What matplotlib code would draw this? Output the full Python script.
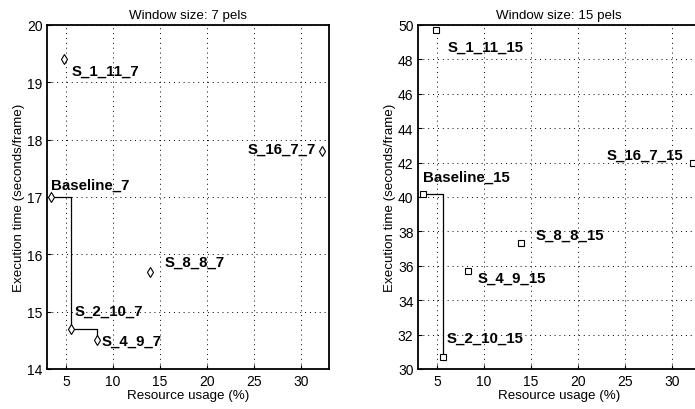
import matplotlib
matplotlib.use("Agg")
import matplotlib.pyplot as plt

plt.rcParams['font.family'] = ['Liberation Sans', 'DejaVu Sans']

# Window size 7 pels
names7 = ["Baseline_7", "S_1_11_7", "S_2_10_7", "S_4_9_7", "S_8_8_7", "S_16_7_7"]
usage7 = [3.4, 4.8, 5.5, 8.3, 13.9, 32.2]
time7 = [17.0, 19.4, 14.7, 14.5, 15.7, 17.8]
pareto7 = ["Baseline_7", "S_2_10_7", "S_4_9_7"]

# Window size 15 pels
names15 = ["Baseline_15", "S_1_11_15", "S_2_10_15", "S_4_9_15", "S_8_8_15", "S_16_7_15"]
usage15 = [3.5, 4.9, 5.6, 8.3, 13.9, 32.25]
time15 = [40.2, 49.7, 30.7, 35.7, 37.3, 41.95]
pareto15 = ["Baseline_15", "S_2_10_15"]

# label offsets in points (dx, dy) and alignment
off7 = {"Baseline_7": (0, 9, 'left'), "S_1_11_7": (5, -8, 'left'),
        "S_2_10_7": (3, 13, 'left'), "S_4_9_7": (3, 0, 'left'),
        "S_8_8_7": (11, 7, 'left'), "S_16_7_7": (-4, 2, 'right')}
off15 = {"Baseline_15": (0, 12, 'left'), "S_1_11_15": (8, -12, 'left'),
         "S_2_10_15": (3, 14, 'left'), "S_4_9_15": (7, -5, 'left'),
         "S_8_8_15": (11, 6, 'left'), "S_16_7_15": (-7, 6, 'right')}

fig = plt.figure(figsize=(6.95, 4.10), dpi=100)
ax1 = fig.add_axes([47.3/695, 40/410, 282/695, 344/410])
ax2 = fig.add_axes([418.3/695, 40/410, 282/695, 344/410])


def draw(ax, names, xs, ys, pareto, offs, marker, ms, ylim, yticks, title):
    ax.plot(xs, ys, linestyle='none', marker=marker, markersize=ms,
            markerfacecolor='white', markeredgecolor='black', markeredgewidth=0.8, zorder=3)
    px = [xs[names.index(n)] for n in pareto]
    py = [ys[names.index(n)] for n in pareto]
    ax.plot(px, py, drawstyle='steps-post', color='black', linewidth=0.9, zorder=2)
    for n, x, y in zip(names, xs, ys):
        dx, dy, ha = offs[n]
        ax.annotate(n, (x, y), xytext=(dx, dy), textcoords='offset points',
                    ha=ha, va='center', fontsize=10.8, fontweight='bold')
    ax.set_xlim(3, 33)
    ax.set_ylim(*ylim)
    ax.set_xticks([5, 10, 15, 20, 25, 30])
    ax.set_yticks(yticks)
    ax.grid(True, linestyle=(0, (1, 4)), color='black', linewidth=0.7)
    ax.tick_params(direction='in', length=3, labelsize=10, width=0.8)
    for s in ax.spines.values():
        s.set_linewidth(1.3)
    ax.set_xlabel("Resource usage (%)", fontsize=9.6, labelpad=1)
    ax.set_ylabel("Execution time (seconds/frame)", fontsize=9.6, labelpad=1)
    ax.set_title(title, fontsize=9.6, pad=5)


draw(ax1, names7, usage7, time7, pareto7, off7, 'd', 5, (14, 20),
     [14, 15, 16, 17, 18, 19, 20], "Window size: 7 pels")
draw(ax2, names15, usage15, time15, pareto15, off15, 's', 4, (30, 50),
     list(range(30, 51, 2)), "Window size: 15 pels")

fig.savefig("out.png", dpi=100)
